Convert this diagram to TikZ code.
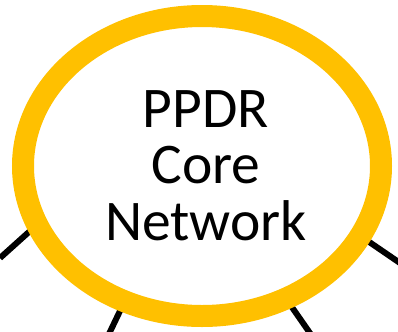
\documentclass[tikz,border=0pt]{standalone}
\usepackage{fontspec}
\setmainfont{Carlito}
\usetikzlibrary{shapes.geometric}
\definecolor{ringgold}{HTML}{FFC000}
\begin{document}
\begin{tikzpicture}[x=1bp,y=-1bp,
  link/.style={line width=6bp,black},
  label/.style={anchor=base,inner sep=0pt,font=\fontsize{57.5bp}{56bp}\selectfont}]
\useasboundingbox (0,0) rectangle (398,332);
\coordinate (l1) at (0,258);
\coordinate (l2) at (108,336);
\coordinate (l3) at (312,336);
\coordinate (l4) at (400,263);
\coordinate (c1) at (60,204);
\coordinate (c2) at (130,290);
\coordinate (c3) at (280,290);
\coordinate (c4) at (340,222);
\draw[link] (l1) -- (c1);
\draw[link] (l2) -- (c2);
\draw[link] (l3) -- (c3);
\draw[link] (l4) -- (c4);
\node[ellipse,draw=ringgold,line width=22bp,fill=white,minimum width=358bp,minimum height=300bp,inner sep=0pt] (core) at (202,166) {};
\node[label] (t1) at (206,127) {PPDR};
\node[label] (t2) at (206,183) {Core};
\node[label] (t3) at (206,240) {Network};
\end{tikzpicture}
\end{document}
